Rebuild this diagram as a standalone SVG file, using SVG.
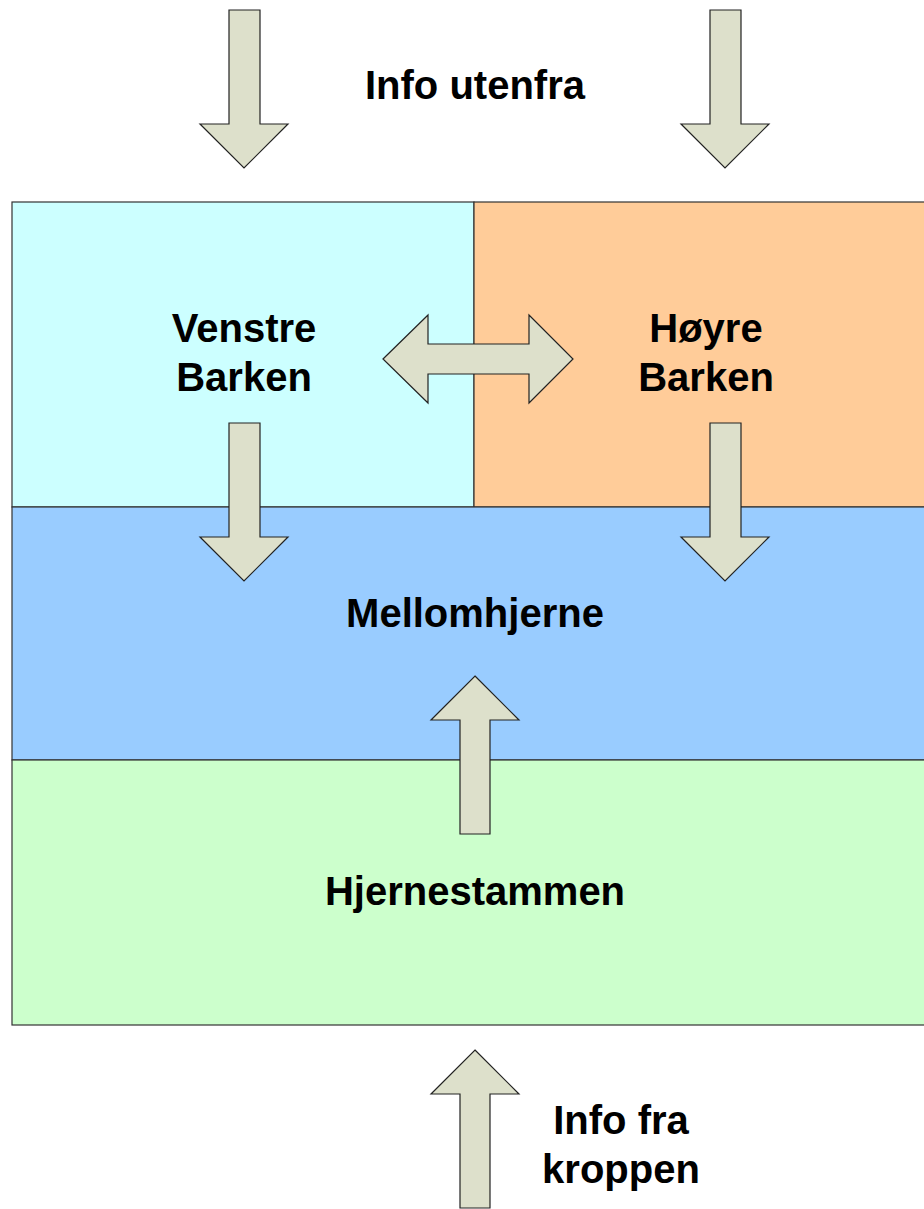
<svg xmlns="http://www.w3.org/2000/svg" width="924" height="1209" viewBox="0 0 924 1209">
<style>
.box{stroke:#333;stroke-width:1.2}
.arr{fill:#DDE0CB;stroke:#222;stroke-width:1.2;stroke-linejoin:miter}
text{font-family:"Liberation Sans",Arial,sans-serif;font-weight:bold;font-size:40px;fill:#000;text-anchor:middle}
</style>
<rect width="924" height="1209" fill="#fff"/>
<g id="venstre-barken">
<rect class="box" x="12" y="202" width="462" height="305" fill="#CCFFFF"/>
<text x="244" y="342">Venstre</text>
<text x="244" y="391">Barken</text>
</g>
<g id="hoyre-barken">
<rect class="box" x="474" y="202" width="460" height="305" fill="#FFCC99"/>
<text x="706" y="342">Høyre</text>
<text x="706" y="391">Barken</text>
</g>
<g id="mellomhjerne">
<rect class="box" x="12" y="507" width="922" height="253" fill="#99CCFF"/>
<text x="475" y="627">Mellomhjerne</text>
</g>
<g id="hjernestammen">
<rect class="box" x="12" y="760" width="922" height="265" fill="#CCFFCC"/>
<text x="475" y="905">Hjernestammen</text>
</g>
<g id="info-utenfra">
<text x="475" y="99">Info utenfra</text>
</g>
<g id="info-fra-kroppen">
<text x="621" y="1134">Info fra</text>
<text x="621" y="1183">kroppen</text>
</g>
<g id="connectors">
<polygon class="arr" points="229,10 260,10 260,124 288,124 244,168 200,124 229,124"/>
<polygon class="arr" points="710,10 741,10 741,124 769,124 725,168 681,124 710,124"/>
<polygon class="arr" points="383,359 428,315 428,344 529,344 529,315 573,359 529,403 529,374 428,374 428,403"/>
<polygon class="arr" points="229,423 260,423 260,537 288,537 244,581 200,537 229,537"/>
<polygon class="arr" points="710,423 741,423 741,537 769,537 725,581 681,537 710,537"/>
<polygon class="arr" points="475,676 519,720 490,720 490,834 460,834 460,720 431,720"/>
<polygon class="arr" points="475,1050 519,1094 490,1094 490,1208 460,1208 460,1094 431,1094"/>
</g>
</svg>
